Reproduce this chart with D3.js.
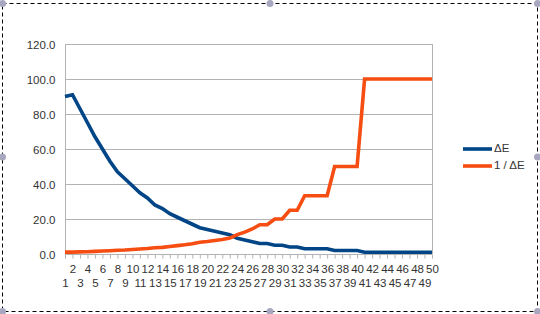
<!DOCTYPE html>
<html><head><meta charset="utf-8">
<script src="https://cdn.jsdelivr.net/npm/d3@7"></script>
<style>body{margin:0;background:#fff;}svg{display:block;font-family:"Liberation Sans",Arial,sans-serif;}</style>
</head><body>
<svg id="c" width="540" height="314"></svg>
<script>
const categories = d3.range(1, 51).map(String);
const deltaE = [90,91,83,75,67,60,53,47,43,39,35,32,28,26,23,21,19,17,15,14,13,12,11,9,8,7,6,6,5,5,4,4,3,3,3,3,2,2,2,2,1,1,1,1,1,1,1,1,1,1];
const invDeltaE = [1.1,1.1,1.2,1.3,1.5,1.7,1.9,2.1,2.3,2.6,2.9,3.1,3.6,3.8,4.3,4.8,5.3,5.9,6.7,7.1,7.7,8.3,9.1,11.1,12.5,14.3,16.7,16.7,20,20,25,25,33.3,33.3,33.3,33.3,50,50,50,50,100,100,100,100,100,100,100,100,100,100];
const yTicks = [0,20,40,60,80,100,120];
const seriesNames = ["ΔE","1 / ΔE"];
const colors = ["#004586","#f54d12"];

const svg = d3.select("#c");
const L = 65, R = 432, T = 44, B = 254;
const x = d3.scalePoint().domain(categories).range([L, R]).padding(0);
const y = d3.scaleLinear().domain([0,120]).range([B, T]);

// selection frame
svg.append("rect").attr("x",2.5).attr("y",3.5).attr("width",535).attr("height",308)
  .attr("fill","none").attr("stroke","#000").attr("stroke-width",1).attr("stroke-dasharray","4,3");
[[2.5,3.5],[270,3.5],[537.5,3.5],[2.5,157],[537.5,157],[2.5,311.5],[270,311.5],[537.5,311.5]].forEach(p=>{
  svg.append("circle").attr("cx",p[0]).attr("cy",p[1]).attr("r",3.5).attr("fill","#a7a7c0");
});

// gridlines
svg.append("g").selectAll("line").data(yTicks).join("line")
  .attr("x1",L).attr("x2",R).attr("y1",d=>y(d)+0.5).attr("y2",d=>y(d)+0.5)
  .attr("stroke","#b3b3b3").attr("stroke-width",1);
svg.append("line").attr("x1",R+0.5).attr("x2",R+0.5).attr("y1",T).attr("y2",B).attr("stroke","#b3b3b3");

// y axis
const ya = svg.append("g").attr("transform",`translate(${L+0.5},0.5)`)
  .call(d3.axisLeft(y).tickValues(yTicks).tickFormat(d3.format(".1f")).tickSize(0).tickPadding(10));
ya.select(".domain").attr("stroke","#b3b3b3").attr("d",`M0,${T-0.5}V${B+4}`);
ya.selectAll("text").attr("fill","#333").attr("font-size",11.5).attr("font-family","Liberation Sans, Arial, sans-serif");

// x axis
const xa = svg.append("g").attr("transform",`translate(0,${B+0.5})`)
  .call(d3.axisBottom(x).tickSize(4).tickPadding(3));
xa.select(".domain").attr("stroke","#b3b3b3").attr("d",`M${L},0H${R}`);
xa.selectAll(".tick line").attr("stroke","#b3b3b3");
xa.selectAll("text").attr("fill","#333").attr("font-size",11.5).attr("font-family","Liberation Sans, Arial, sans-serif")
  .attr("dy",null)
  .attr("y",(d,i)=> i%2===1 ? 15 : 29)
  .attr("dominant-baseline","middle");

// lines
const line = d3.line().x((d,i)=>x(categories[i])).y(d=>y(d));
[deltaE, invDeltaE].forEach((s,k)=>{
  svg.append("path").datum(s).attr("d",line).attr("fill","none")
    .attr("stroke",colors[k]).attr("stroke-width",3.6).attr("stroke-linejoin","miter");
});

// legend
seriesNames.forEach((n,k)=>{
  const yy = 149 + k*17;
  svg.append("line").attr("x1",463).attr("x2",492).attr("y1",yy).attr("y2",yy)
    .attr("stroke",colors[k]).attr("stroke-width",3.6);
  svg.append("text").attr("x",494).attr("y",yy).attr("dominant-baseline","middle")
    .attr("font-size",11.5).attr("fill","#333").text(n);
});
</script>
</body></html>
